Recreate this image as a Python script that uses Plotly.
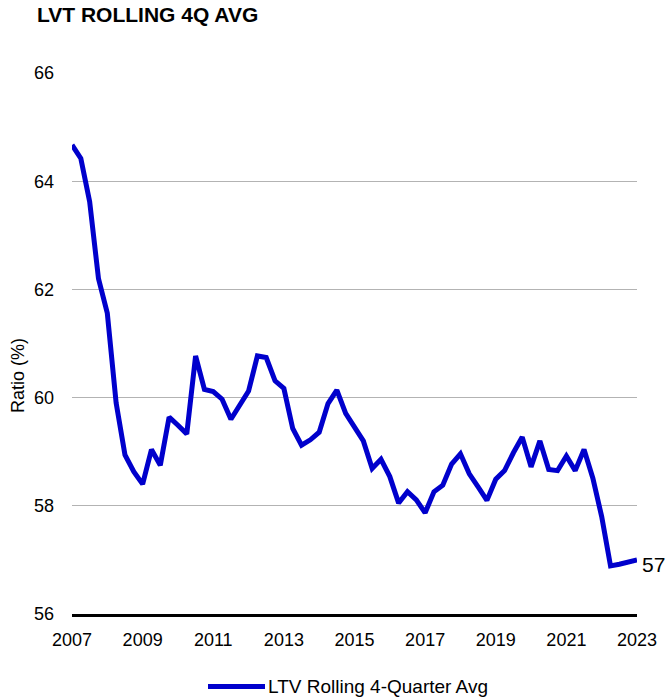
import plotly.graph_objects as go

# Quarterly rolling 4-quarter average LTV ratio, 2007 Q1 .. 2023 Q1
start_year = 2007
quarters_per_year = 4
ltv_values = [
    64.67, 64.42, 63.62, 62.20,
    61.56, 59.90, 58.94, 58.63,
    58.40, 59.04, 58.75, 59.64,
    59.49, 59.33, 60.77, 60.15,
    60.11, 59.97, 59.60, 59.86,
    60.12, 60.77, 60.74, 60.31,
    60.17, 59.43, 59.12, 59.22,
    59.36, 59.89, 60.14, 59.71,
    59.46, 59.20, 58.69, 58.86,
    58.54, 58.05, 58.26, 58.11,
    57.87, 58.26, 58.38, 58.77,
    58.96, 58.59, 58.35, 58.10,
    58.49, 58.65, 58.98, 59.27,
    58.72, 59.20, 58.67, 58.65,
    58.92, 58.65, 59.04, 58.51,
    57.80, 56.89, 56.92, 56.97,
    57.00,
]
periods = [start_year + i / quarters_per_year for i in range(len(ltv_values))]

x_ticks = [2007, 2009, 2011, 2013, 2015, 2017, 2019, 2021, 2023]
y_ticks = [56, 58, 60, 62, 64, 66]

title_text = "LVT ROLLING 4Q AVG"
series_name = "LTV Rolling 4-Quarter Avg"
y_title = "Ratio (%)"

LINE_COLOR = "#0000cc"
FONT = "Liberation Sans, Arial, sans-serif"

W, H = 669, 698
M_L, M_R, M_T, M_B = 72, 32, 73, 84
plot_w = W - M_L - M_R
plot_h = H - M_T - M_B


def px_to_paper_x(px):
    return (px - M_L) / plot_w


def px_to_paper_y(py):
    return (H - M_B - py) / plot_h


fig = go.Figure()
fig.add_trace(go.Scatter(
    x=periods,
    y=ltv_values,
    mode="lines",
    name=series_name,
    line=dict(color=LINE_COLOR, width=5),
    showlegend=False,
    hoverinfo="x+y",
))

# Value label at the end of the series
fig.add_annotation(
    x=periods[-1], y=ltv_values[-1],
    text=f"{ltv_values[-1]:.0f}",
    xanchor="left", yanchor="middle",
    xshift=3, yshift=-5,
    showarrow=False,
    font=dict(family=FONT, size=21, color="#000000"),
)

# Chart title, top left
fig.add_annotation(
    xref="paper", yref="paper",
    x=px_to_paper_x(35), y=px_to_paper_y(15),
    text=f"<b>{title_text}</b>",
    xanchor="left", yanchor="middle",
    showarrow=False,
    font=dict(family=FONT, size=21, color="#000000"),
)

# Y-axis title
fig.add_annotation(
    xref="paper", yref="paper",
    x=px_to_paper_x(18), y=px_to_paper_y(376),
    text=y_title, textangle=-90,
    xanchor="center", yanchor="middle",
    showarrow=False,
    font=dict(family=FONT, size=18, color="#000000"),
)

# Legend entry drawn below the axis
legend_y = px_to_paper_y(686.5)
fig.add_shape(
    type="line", xref="paper", yref="paper",
    x0=px_to_paper_x(208), x1=px_to_paper_x(265),
    y0=legend_y, y1=legend_y,
    line=dict(color=LINE_COLOR, width=5),
)
fig.add_annotation(
    xref="paper", yref="paper",
    x=px_to_paper_x(266), y=legend_y,
    text=series_name,
    xanchor="left", yanchor="middle",
    showarrow=False,
    font=dict(family=FONT, size=19, color="#000000"),
)

fig.update_layout(
    width=W, height=H,
    margin=dict(l=M_L, r=M_R, t=M_T, b=M_B),
    paper_bgcolor="white",
    plot_bgcolor="white",
    font=dict(family=FONT, size=18, color="#000000"),
    xaxis=dict(
        range=[2007, 2023],
        tickmode="array",
        tickvals=x_ticks,
        ticktext=[str(t) for t in x_ticks],
        showgrid=False,
        zeroline=False,
        showline=True,
        linecolor="#000000",
        linewidth=3,
        ticks="",
        ticklabelstandoff=7,
        tickfont=dict(family=FONT, size=18),
    ),
    yaxis=dict(
        range=[56, 66],
        tickmode="array",
        tickvals=y_ticks,
        ticktext=[str(t) for t in y_ticks],
        showgrid=True,
        gridcolor="#b3b3b3",
        gridwidth=1.3,
        zeroline=False,
        showline=False,
        ticks="",
        ticklabelstandoff=17,
        tickfont=dict(family=FONT, size=18),
    ),
)

fig.write_html("out.html")
